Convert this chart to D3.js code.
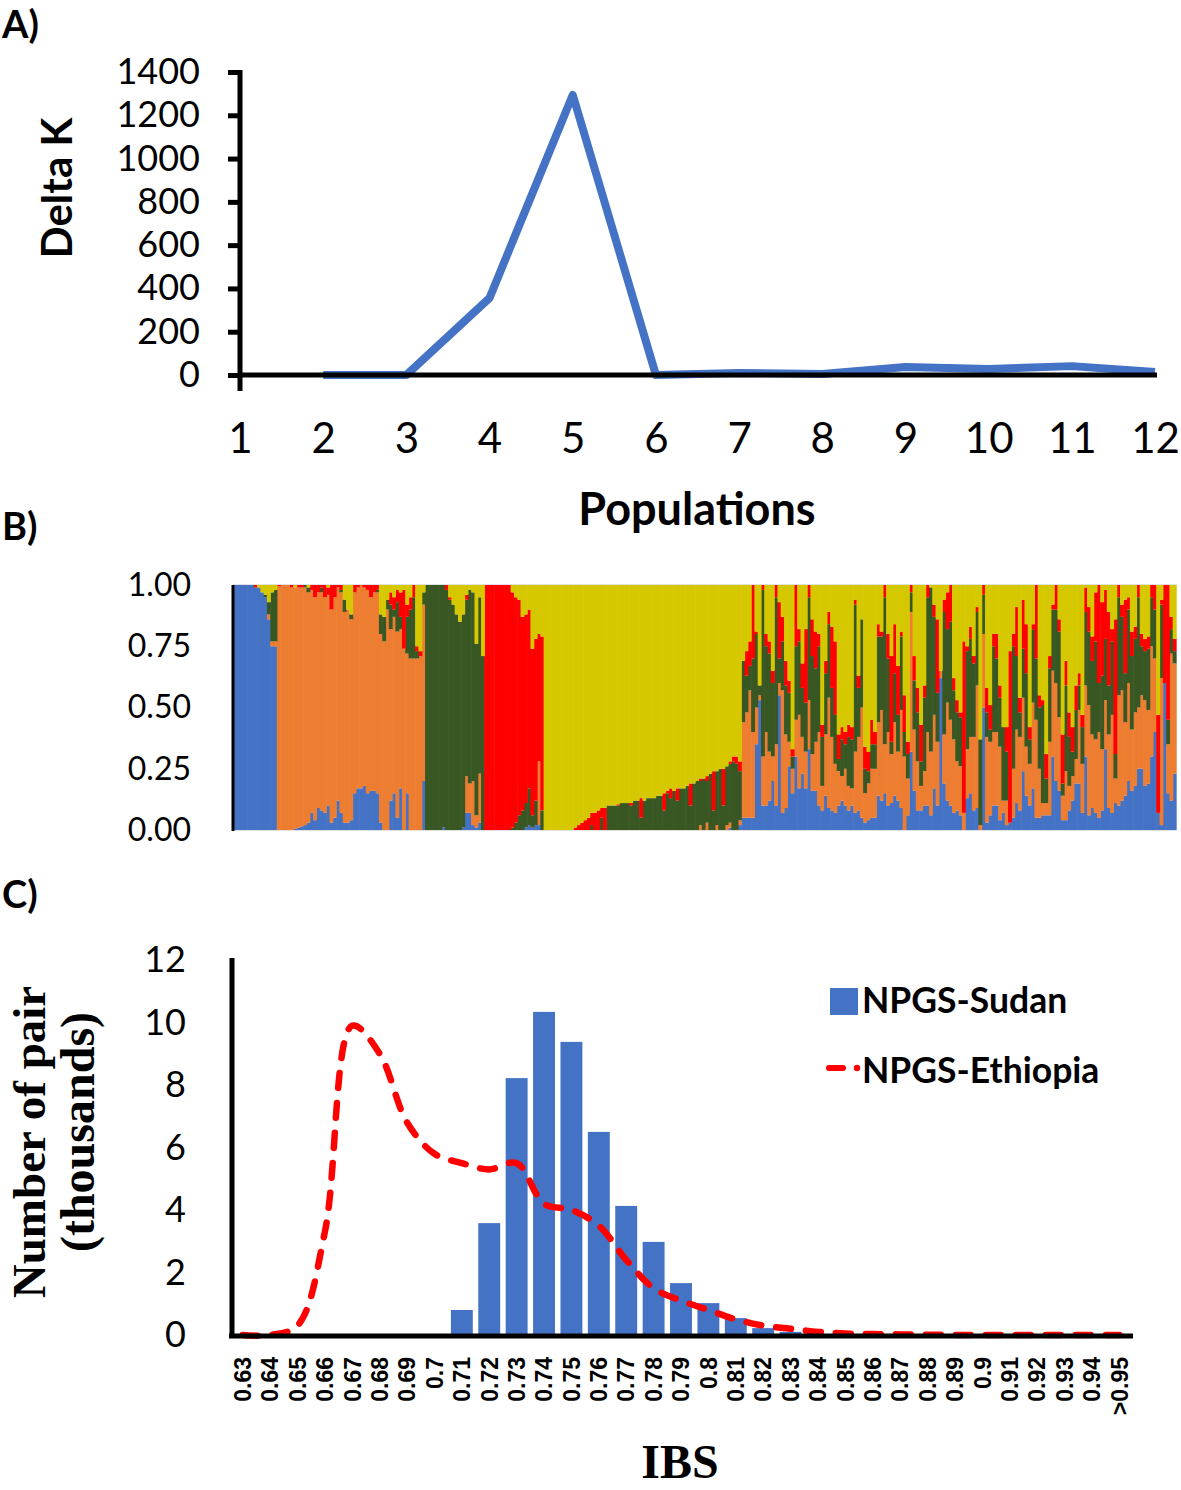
<!DOCTYPE html>
<html><head><meta charset="utf-8">
<script src="https://cdn.jsdelivr.net/npm/d3@7"></script>
<style>body{margin:0;background:#fff}svg{display:block}</style>
</head><body>
<script>
// ---------- Panel A data ----------
const popK = [2,3,4,5,6,7,8,9,10,11,12];
const deltaK = [0,0,356,1294,0,9,5,37,28,41,14];
const kTicks = [1,2,3,4,5,6,7,8,9,10,11,12];
const deltaKTicks = [0,200,400,600,800,1000,1200,1400];

// ---------- Panel B data (per individual: blue, orange, green, red, yellow) ----------
const ancestryNames = ["blue","orange","green","red","yellow"];
const ancestryColors = ["#4472C4","#ED7D31","#385723","#FF0000","#D6C800"];
const qTicks = [0,0.25,0.5,0.75,1];
const qGroupBlue = [
[1,0,0,0,0],[1,0,0,0,0],[1,0,0,0,0],[1,0,0,0,0],[1,0,0,0,0],[1,0,0,0,0],[.99,0,0,.01,0],
[.99,0,0,0,.01],[.97,0,0,0,.03],[.95,0,.01,0,.04],[.86,.02,.05,0,.07],[.75,.02,.2,0,.03],[.75,.02,.21,0,.02]];
const qGroupOrange = [
[0,.995,0,.005,0],[0,1,0,0,0],[0,1,0,0,0],[0,1,0,0,0],[0,.99,0,.01,0],[.005,.985,0,0,.01],
[.01,.98,0,.01,0],[.015,.975,0,.01,0],[.02,.97,.01,0,0],[.03,.94,.02,0,.01],[.07,.91,0,.02,0],
[.04,.91,0,.05,0],[.09,.88,0,.03,0],[.08,.89,.02,.01,0],[.07,.88,0,.05,0],[.1,.86,0,.03,.01],
[.03,.87,0,.1,0],[.05,.9,0,.05,0],[.12,.87,0,.01,0],[.07,.9,.01,.02,0],[.03,.86,.05,0,.06],
[.03,.87,0,0,.1],[.04,.82,.02,0,.12],[.15,.82,0,.03,0],[.17,.82,0,.01,0],[.17,.83,0,0,0],
[.18,.81,0,.01,0],[.15,.83,0,.02,0],[.16,.79,0,.05,0],[.16,.81,0,.03,0],[.15,.82,.01,.02,0],
[.03,.77,.08,0,.12],[0,.77,.1,0,.13],[0,.9,.04,0,.06],[.12,.7,.1,.05,.03],[.15,.72,.03,.05,.05],
[.05,.76,.12,.05,.02],[.17,.65,.05,.1,.03],[0,.74,0,.24,.02],[.15,.57,.15,.05,.08],[0,.7,.2,.05,.05],
[0,.7,.25,.05,0],[0,.7,.03,.02,.25],[0,.71,0,.02,.27],[.2,.72,.05,0,.03]];
const qGroupGreen = [
[0,0,1,0,0],[0,0,1,0,0],[0,0,1,0,0],[0,0,1,0,0],[0,0,1,0,0],[.01,0,.99,0,0],[0,0,.98,.02,0],
[0,0,.94,.01,.05],[0,0,.92,0,.08],[0,0,.88,0,.12],[0,0,.85,0,.15],[.01,0,.87,0,.12],
[.07,.15,.72,.02,.04],[.07,.12,.79,0,.02],[.02,.18,.77,0,.03],[.01,.05,.7,0,.24],[.03,.2,.72,0,.05],[0,0,.71,0,.29]];
const qGroupRed = [
[0,0,0,1,0],[0,0,0,1,0],[0,0,0,1,0],[0,0,0,1,0],[0,0,0,1,0],[0,0,0,1,0],[0,0,0,1,0],[0,0,0,1,0],
[0,0,.01,.96,.03],[0,0,.03,.92,.05],[0,0,.06,.88,.06],[0,0,.08,.79,.13],[.01,0,.1,.77,.12],
[.02,0,.15,.73,.1],[.01,0,.05,.68,.26],[.02,0,.1,.66,.22],[.02,.26,0,.52,.2],[0,0,.08,.71,.21]];
const qGroupYellow = [
[0,0,0,0,1],[0,0,0,0,1],[0,0,0,0,1],[0,0,0,0,1],[0,0,0,0,1],[0,0,0,0,1],[0,0,0,0,1],[0,0,0,0,1],[0,0,0,0,1],
[0,0,0,.01,.99],[0,0,0,.02,.98],[0,0,0,.03,.97],[0,0,0,.04,.96],[0,0,0,.05,.95],[0,0,.02,.05,.93],
[0,0,0,.07,.93],[0,0,0,.08,.92],[0,0,.05,.04,.91],[0,0,0,.09,.91],[0,0,.1,0,.9],[0,0,.1,0,.9],
[0,0,.1,0,.9],[0,0,.1,.005,.895],[0,0,.11,0,.89],[0,0,.11,0,.89],[0,0,.11,0,.89],[0,0,.1,.01,.89],
[0,0,.12,0,.88],[0,0,.12,0,.88],[0,0,.05,.08,.87],[0,0,.12,0,.88],[0,0,.13,0,.87],[0,0,.13,0,.87],
[0,0,.13,0,.87],[0,0,.14,0,.86],[0,0,.14,0,.86],[0,0,.08,.07,.85],[0,0,.15,.01,.84],[0,0,.13,.04,.83],
[0,0,.16,0,.84],[0,0,.12,.05,.83],[0,0,.17,0,.83],[0,0,.17,0,.83],[0,0,.18,0,.82],[0,0,.1,.09,.81],
[0,0,.19,0,.81],[0,0,.2,0,.8],[0,.02,.18,.01,.79],[0,0,.21,0,.79],[0,.03,.17,.02,.78],[0,0,.23,0,.77],
[0,0,.08,.16,.76],[0,.02,.22,0,.76],[0,0,.25,0,.75],[0,0,.1,.15,.75],[0,.02,.24,0,.74],
[.01,.02,.24,.01,.72],[0,0,.28,.02,.7],[0,0,.27,.03,.7]];
const qGroupMixedA = [
[.02,.02,.2,.04,.72],[.05,.39,.25,0,.31],[.05,.43,.15,.1,.27],[.05,.52,.1,.1,.23],[.05,.35,.3,.3,0],
[.35,.15,.3,.01,.19],[.53,.02,.04,0,.41],[.1,.2,.68,.02,0],[.1,.3,.35,.05,.2],[.12,.2,.4,.05,.23],
[.2,.1,.3,.05,.35],[.1,.25,.6,.05,0],[.55,.05,.1,.23,.07],[.07,.5,.2,.1,.13],[.09,.3,.2,.1,.31],
[.26,.1,.2,.05,.39],[.15,.1,.05,.03,.67],[.3,.15,.3,.25,0],[.17,.3,.3,.05,.18],[.23,.15,.2,.1,.32],
[.17,.15,.2,.3,.18],[.33,.2,.42,.05,0],[.16,.15,.4,.15,.14],[.16,.2,.3,.15,.19],[.1,.3,.35,.05,.2],
[.08,.1,.2,.05,.57],[.14,.25,.25,.05,.31],[.09,.45,.3,.05,.11],[.08,.3,.2,.25,.17],[.07,.2,.2,.3,.23],
[.1,.14,.05,.1,.61],[.12,.1,.15,.05,.58],[.1,.15,.1,.05,.6],[.08,.1,.2,.05,.57],[.1,.07,.2,.05,.58],
[.07,.25,.6,.02,.06],[.08,.3,.2,.05,.37]];
const qGroupMixedB = [
[.05,.45,.36,0,.14],[.03,.12,.1,.09,.66],[.04,.15,.05,.08,.68],[.05,.2,.1,.1,.55],[.05,.2,.1,.05,.6],
[.14,.3,.35,.05,.16],[.12,.37,.3,.02,.19],[.15,.2,.6,.05,0],[.1,.3,.3,.1,.2],[.11,.2,.05,.35,.29],
[.14,.3,.2,.2,.16],[.12,.2,.15,.2,.33],[.09,.4,.3,.02,.19],[0,.3,.1,.15,.45],[.06,.15,.1,.05,.64],
[.32,.57,.08,.03,0],[.16,.25,.2,.1,.29],[.08,.2,.2,.1,.42],[.08,.1,.1,.15,.57],[.1,.14,.3,.05,.41],
[.1,.3,.55,.05,0],[.06,.26,.67,0,.01],[.17,.3,.4,.05,.08],[.1,.26,.2,.3,.14],[.62,.03,0,0,.35],
[.19,.2,.5,.05,.06],[.12,.4,.3,.15,.03],[.1,.35,.4,.15,0],[.07,.3,.2,.05,.38],[.08,.2,.2,.05,.47],
[.06,.2,.2,.02,.52],[0,.07,0,.7,.23],[.13,.2,.4,.02,.25],[.15,.23,.4,.05,.17],[.08,.3,.3,.03,.29],
[.09,.5,.3,.02,.09],[0,.02,.35,0,.63],[.5,.3,.16,.04,0],[.03,.35,.1,.1,.42],[.06,.3,.05,.1,.49],
[.1,.3,.35,.05,.2],[.1,.3,.3,.1,.2],[.04,.3,.2,.05,.41],[.07,.05,.3,0,.58],[.02,.1,.2,.1,.58],
[.03,0,0,.7,.27],[.05,.2,.5,.05,.2],[.11,.3,.3,.2,.09],[.08,.3,.1,.06,.46],[.24,.3,.2,.2,.06],
[.14,.2,.3,.2,.16],[.1,.17,.1,.05,.58],[.17,.35,.3,.02,.16],[.05,.4,.25,.3,0],[.05,.2,.25,.05,.45],
[.06,.05,.4,.02,.47],[.06,.05,.1,.1,.69],[.06,.3,.3,.05,.29],[.3,.35,.25,.02,.08],[.2,.4,.3,.1,0],
[.16,.3,.35,.05,.14],[.04,.1,.05,.2,.61],[.04,.2,.35,.1,.31],[.08,.1,.2,.1,.52],[.12,.1,.1,.1,.58],
[.19,.1,.2,.1,.41],[.19,.3,.1,.05,.36],[.07,.2,.15,.05,.53],[.3,.29,.3,.1,.01],[.06,.45,.3,.1,.09],
[.09,.3,.3,.1,.21],[.07,.3,.4,.2,.03],[.05,.35,.2,.4,0],[.08,.25,.3,.3,.07],[.33,.2,.25,.2,.02],
[.09,.3,.2,.3,.11],[.07,.4,.3,.05,.18],[.11,.1,.1,.55,.14],[.1,.45,.4,.05,0],[.12,.45,.3,.05,.08],
[.14,.3,.2,.3,.06],[.2,.4,.3,.05,.05],[.16,.25,.3,.1,.19],[.18,.3,.3,.05,.17],[.25,.25,.45,.05,0],
[.25,.3,.2,.05,.2],[.18,.35,.2,.05,.22],[.19,.3,.25,.05,.21],[.3,.45,.2,.05,0],[.4,.3,.2,.1,0],
[.07,0,0,.4,.53],[.02,.6,.3,.02,.06],[.6,0,0,.4,0],[.15,.2,.1,.55,0],[.12,.6,.1,.05,.13],[.23,.45,.05,.05,.22]];

// ---------- Panel C data ----------
const ibsBins = ["0.63","0.64","0.65","0.66","0.67","0.68","0.69","0.7","0.71","0.72","0.73","0.74","0.75","0.76","0.77","0.78","0.79","0.8","0.81","0.82","0.83","0.84","0.85","0.86","0.87","0.88","0.89","0.9","0.91","0.92","0.93","0.94",">0.95"];
const sudanPairs = [0,0,0,0,0,0,0,0,0.8,3.58,8.22,10.34,9.38,6.5,4.13,2.98,1.66,1.02,0.54,0.22,0.1,0.03,0,0,0,0,0,0,0,0,0,0,0];
const ethiopiaPairs = [0,0,0.3,3.3,9.9,9.0,6.8,5.8,5.5,5.3,5.5,4.2,4.0,3.5,2.4,1.5,1.1,0.8,0.5,0.3,0.2,0.1,0.05,0.03,0.02,0.01,0,0,0,0,0,0,0];
const pairTicks = [0,2,4,6,8,10,12];
const legendLabels = ["NPGS-Sudan","NPGS-Ethiopia"];

const W = 1181, H = 1490;
const sans = "Lato, 'Open Sans', sans-serif";
const serif = "'Liberation Serif','Times New Roman',serif";
const svg = d3.select("body").append("svg").attr("width", W).attr("height", H);

// Panel letters
[["A)",38],["B)",540],["C)",908]].forEach(([t,y]) => {
  svg.append("text").attr("x",2).attr("y",y).text(t)
    .attr("font-family",sans).attr("font-weight",700).attr("font-size",38).attr("fill","#000");
});

// ================= Panel A =================
const xA = d3.scaleLinear().domain([1,12]).range([240,1155]);
const yA = d3.scaleLinear().domain([0,1400]).range([375,72]);
const gA = svg.append("g");
const yAxisA = gA.append("g").attr("transform","translate(240,0)")
  .call(d3.axisLeft(yA).tickValues(deltaKTicks).tickSize(12).tickPadding(28).tickFormat(d3.format("d")));
yAxisA.select(".domain").remove();
yAxisA.selectAll(".tick line").attr("stroke","#000").attr("stroke-width",5);
yAxisA.selectAll("text").attr("font-family",sans).attr("font-size",36).attr("fill","#000");
gA.append("line").attr("x1",240).attr("x2",240).attr("y1",yA(1400)-2).attr("y2",391)
  .attr("stroke","#000").attr("stroke-width",5);
const xAxisA = gA.append("g").attr("transform","translate(0,375)")
  .call(d3.axisBottom(xA).tickValues(kTicks).tickSize(0).tickPadding(48).tickFormat(d3.format("d")));
xAxisA.select(".domain").remove();
xAxisA.selectAll("text").attr("font-family",sans).attr("font-size",42).attr("fill","#000");
gA.append("path").datum(popK.map((k,i)=>[k,deltaK[i]]))
  .attr("d", d3.line().x(d=>xA(d[0])).y(d=>yA(d[1])))
  .attr("fill","none").attr("stroke","#4472C4").attr("stroke-width",8).attr("stroke-linejoin","round");
gA.append("line").attr("x1",240).attr("x2",xA(12)+2).attr("y1",375).attr("y2",375)
  .attr("stroke","#000").attr("stroke-width",5);
gA.append("text").attr("transform","translate(72,188) rotate(-90)").attr("text-anchor","middle")
  .text("Delta K").attr("font-family",sans).attr("font-weight",700).attr("font-size",42);
gA.append("text").attr("x",697).attr("y",525).attr("text-anchor","middle")
  .text("Populations").attr("font-family",sans).attr("font-weight",700).attr("font-size",45);

// ================= Panel B =================
const qRows = [].concat(qGroupBlue,qGroupOrange,qGroupGreen,qGroupRed,qGroupYellow,qGroupMixedA,qGroupMixedB);
const xB = d3.scaleBand().domain(d3.range(qRows.length)).range([234,1176]).padding(0);
const yB = d3.scaleLinear().domain([0,1]).range([830,585]);
const stackB = d3.stack().keys(d3.range(ancestryNames.length)).value((r,k)=>r[k]).offset(d3.stackOffsetExpand);
const seriesB = stackB(qRows);
const gB = svg.append("g");
gB.append("rect").attr("x",234).attr("y",585).attr("width",942).attr("height",245)
  .attr("fill","none").attr("stroke","#d9d9d9").attr("stroke-width",1.5);
gB.selectAll("g.layer").data(seriesB).join("g").attr("class","layer")
  .attr("fill",(d,i)=>ancestryColors[i])
  .selectAll("rect").data(d=>d).join("rect")
  .attr("x",(d,i)=>xB(i)).attr("width",xB.bandwidth()+0.6)
  .attr("y",d=>yB(d[1])).attr("height",d=>Math.max(0,yB(d[0])-yB(d[1])));
const yAxisB = gB.append("g").attr("transform","translate(233,0)")
  .call(d3.axisLeft(yB).tickValues(qTicks).tickSize(0).tickPadding(42).tickFormat(d3.format(".2f")));
yAxisB.select(".domain").remove();
yAxisB.selectAll("text").attr("font-family",sans).attr("font-size",32).attr("fill","#000");
gB.append("line").attr("x1",233).attr("x2",233).attr("y1",585).attr("y2",831)
  .attr("stroke","#000").attr("stroke-width",3);

// ================= Panel C =================
const xC = d3.scaleBand().domain(ibsBins).range([229,1133]).paddingInner(0.2).paddingOuter(0.1);
const yC = d3.scaleLinear().domain([0,12]).range([1335,960]);
const gC = svg.append("g");
gC.selectAll("rect.bar").data(sudanPairs).join("rect").attr("class","bar")
  .attr("x",(d,i)=>xC(ibsBins[i])).attr("width",xC.bandwidth())
  .attr("y",d=>yC(d)).attr("height",d=>yC(0)-yC(d)).attr("fill","#4472C4");
gC.append("path").datum(ethiopiaPairs)
  .attr("d", d3.line().x((d,i)=>xC(ibsBins[i])+xC.bandwidth()/2).y(d=>yC(d)).curve(d3.curveCatmullRom.alpha(0.5)))
  .attr("fill","none").attr("stroke","#FF0000").attr("stroke-width",6.5)
  .attr("stroke-dasharray","15 15").attr("stroke-linecap","round");
const yAxisC = gC.append("g").attr("transform","translate(232,0)")
  .call(d3.axisLeft(yC).tickValues(pairTicks).tickSize(0).tickPadding(46).tickFormat(d3.format("d")));
yAxisC.select(".domain").remove();
yAxisC.selectAll("text").attr("font-family",sans).attr("font-size",36).attr("fill","#000");
gC.append("line").attr("x1",232).attr("x2",232).attr("y1",958).attr("y2",1338)
  .attr("stroke","#000").attr("stroke-width",5);
gC.append("line").attr("x1",229).attr("x2",1133).attr("y1",1336).attr("y2",1336)
  .attr("stroke","#000").attr("stroke-width",5);
const xAxisC = gC.append("g").attr("transform","translate(0,1336)")
  .call(d3.axisBottom(xC).tickSize(0).tickPadding(0));
xAxisC.select(".domain").remove();
xAxisC.selectAll("text")
  .attr("transform","translate(0,21) rotate(-90)")
  .attr("text-anchor","end").attr("x",0).attr("y",0).attr("dy","0.36em")
  .attr("font-family","'Liberation Sans', Arial, sans-serif").attr("font-weight",700)
  .attr("font-size",23).attr("fill","#000");
// axis titles
gC.append("text").attr("transform","translate(45,1142) rotate(-90)").attr("text-anchor","middle")
  .text("Number of pair").attr("font-family",serif)
  .attr("font-weight",700).attr("font-size",47);
gC.append("text").attr("transform","translate(94,1132) rotate(-90)").attr("text-anchor","middle")
  .text("(thousands)").attr("font-family",serif)
  .attr("font-weight",700).attr("font-size",48);
gC.append("text").attr("x",680).attr("y",1478).attr("text-anchor","middle")
  .text("IBS").attr("font-family",serif)
  .attr("font-weight",700).attr("font-size",48);
// legend
const lg = gC.append("g");
lg.append("rect").attr("x",830).attr("y",988).attr("width",28).attr("height",27).attr("fill","#4472C4");
lg.append("line").attr("x1",829).attr("x2",843).attr("y1",1068).attr("y2",1068)
  .attr("stroke","#FF0000").attr("stroke-width",6).attr("stroke-linecap","round");
lg.append("circle").attr("cx",857).attr("cy",1068).attr("r",3.2).attr("fill","#FF0000");
lg.selectAll("text").data(legendLabels).join("text")
  .attr("x",862).attr("y",(d,i)=>1013+i*70).text(d=>d)
  .attr("font-family",sans).attr("font-weight",700).attr("font-size",35.5).attr("fill","#000");
</script>
</body></html>
